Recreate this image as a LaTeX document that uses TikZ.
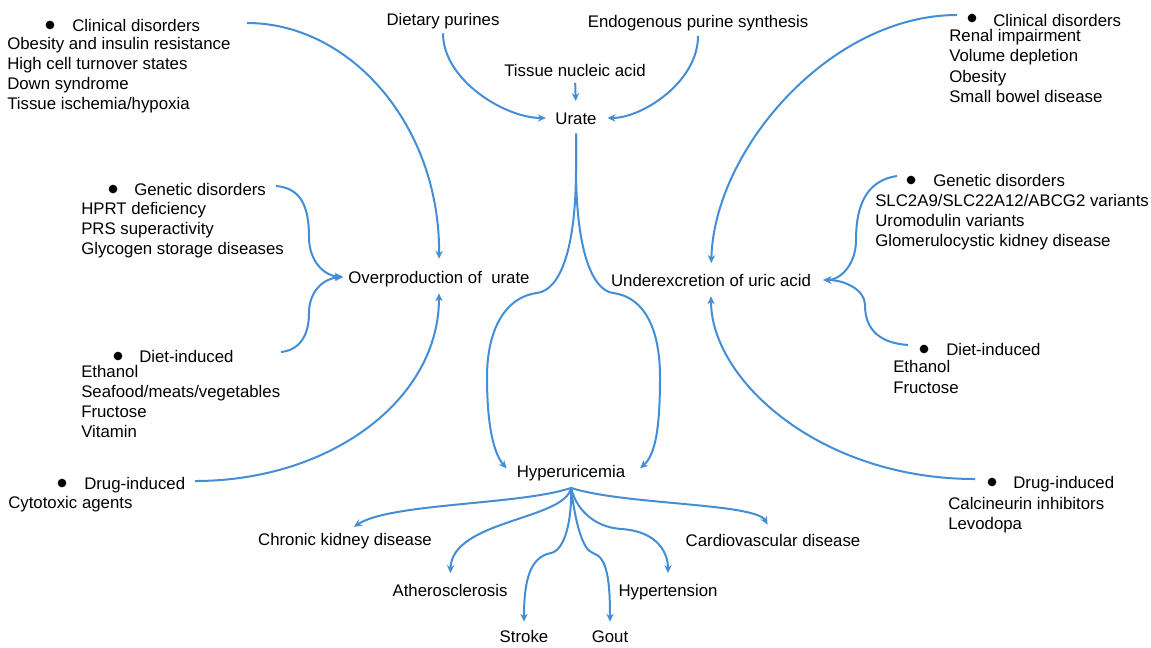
\documentclass[tikz,border=0pt]{standalone}
\usepackage{fontspec}
\setmainfont{Liberation Sans}
\usetikzlibrary{arrows.meta}
\definecolor{lineblue}{RGB}{68,142,214}
\newcommand\lblfont{\fontsize{12.6pt}{15pt}\selectfont}
\begin{document}
\begin{tikzpicture}[x=0.75pt,y=-0.75pt,
  lbl/.style={font=\lblfont, inner sep=0pt, text height=9pt, text depth=0pt},
  dot/.style={circle, fill=black, inner sep=0pt, minimum size=6.5pt},
  arr/.style={draw=lineblue, line width=1.5pt, -{Stealth[length=6pt,width=5.5pt]}}]
\fill[white] (0,0) rectangle (1151,647);
\useasboundingbox (0,0) rectangle (1151,647);

% central nodes
\node[lbl] (dp) at (443,19) {Dietary purines};
\node[lbl] (ep) at (698,21) {Endogenous purine synthesis};
\node[lbl] (tna) at (575,70) {Tissue nucleic acid};
\node[lbl] (urate) at (576,118) {Urate};
\node[lbl] (over) at (439,277) {Overproduction of\ \ urate};
\node[lbl] (under) at (711,280) {Underexcretion of uric acid};
\node[lbl] (hyp) at (571,471) {Hyperuricemia};
\node[lbl] (ckd) at (345,539) {Chronic kidney disease};
\node[lbl] (cvd) at (773,540) {Cardiovascular disease};
\node[lbl] (ath) at (450,590) {Atherosclerosis};
\node[lbl] (hyt) at (668,590) {Hypertension};
\node[lbl] (str) at (524,636) {Stroke};
\node[lbl] (gout) at (610,636) {Gout};

% left clinical
\node[dot] (lcb) at (50,25) {};
\node[lbl,anchor=west] (lch) at (72,25) {Clinical disorders};
\foreach \t [count=\i] in {Obesity and insulin resistance,High cell turnover states,Down syndrome,Tissue ischemia/hypoxia}
  \node[lbl,anchor=west] (lc\i) at (7,{43+20.3*(\i-1)}) {\t};
% left genetic
\node[dot] (lgb) at (113,189) {};
\node[lbl,anchor=west] (lgh) at (134,189) {Genetic disorders};
\foreach \t [count=\i] in {HPRT deficiency,PRS superactivity,Glycogen storage diseases}
  \node[lbl,anchor=west] (lg\i) at (81,{208+20*(\i-1)}) {\t};
% left diet
\node[dot] (ldb) at (118,356) {};
\node[lbl,anchor=west] (ldh) at (139,356) {Diet-induced};
\foreach \t [count=\i] in {Ethanol,Seafood/meats/vegetables,Fructose,Vitamin}
  \node[lbl,anchor=west] (ld\i) at (81,{371+20*(\i-1)}) {\t};
% left drug
\node[dot] (lxb) at (62,483) {};
\node[lbl,anchor=west] (lxh) at (84,483) {Drug-induced};
\node[lbl,anchor=west] (lx1) at (8,502) {Cytotoxic agents};

% right clinical
\node[dot] (rcb) at (972,18) {};
\node[lbl,anchor=west] (rch) at (993,20) {Clinical disorders};
\foreach \t [count=\i] in {Renal impairment,Volume depletion,Obesity,Small bowel disease}
  \node[lbl,anchor=west] (rc\i) at (949,{35+20.6*(\i-1)}) {\t};
% right genetic
\node[dot] (rgb) at (911,180) {};
\node[lbl,anchor=west] (rgh) at (933,180) {Genetic disorders};
\foreach \t [count=\i] in {SLC2A9/SLC22A12/ABCG2 variants,Uromodulin variants,Glomerulocystic kidney disease}
  \node[lbl,anchor=west] (rg\i) at (875,{200+20*(\i-1)}) {\t};
% right diet
\node[dot] (rdb) at (924,349) {};
\node[lbl,anchor=west] (rdh) at (946,349) {Diet-induced};
\foreach \t [count=\i] in {Ethanol,Fructose}
  \node[lbl,anchor=west] (rd\i) at (893,{366+21*(\i-1)}) {\t};
% right drug
\node[dot] (rxb) at (992,482) {};
\node[lbl,anchor=west] (rxh) at (1013,482) {Drug-induced};
\foreach \t [count=\i] in {Calcineurin inhibitors,Levodopa}
  \node[lbl,anchor=west] (rx\i) at (948,{503+20*(\i-1)}) {\t};

% free ends of connectors
\coordinate (lcS) at (247,23);
\coordinate (lgS) at (276,186);
\coordinate (ldS) at (281,352);
\coordinate (lxS) at (195,481);
\coordinate (rcS) at (957,15);
\coordinate (rgS) at (897,176);
\coordinate (rdS) at (908,345);
\coordinate (rxS) at (975,479);
\coordinate (fan) at ([yshift=-8pt]hyp.south);

% top inputs
\draw[arr, shorten <=6pt, shorten >=7pt] (dp.south) .. controls +(0,55) and +(-50,0) .. (urate.west);
\draw[arr, shorten <=6.5pt, shorten >=8pt] (ep.south) .. controls +(0,55) and +(45,0) .. (urate.east);
\draw[arr, shorten <=5pt, shorten >=8pt] (tna.south) -- (urate.north);

% urate to hyperuricemia
\draw[arr, shorten <=7pt] (urate.south) -- (576,168) .. controls (576,250) and (560,290) .. (537,293)
  .. controls (505,297) and (487,330) .. (487,377) .. controls (487,430) and (495,455) .. ([xshift=-7.5pt,yshift=2pt]hyp.west);
\draw[arr, shorten <=7pt] (urate.south) -- (576,168) .. controls (576,250) and (592,290) .. (613,293)
  .. controls (645,297) and (660,330) .. (660,377) .. controls (660,430) and (655,455) .. ([xshift=11pt,yshift=2pt]hyp.east);

% overproduction inputs
\draw[arr, shorten >=9pt] (lcS) .. controls (350,23) and (440,125) .. (over.north);
\draw[arr, shorten >=7.5pt] (lxS) .. controls (330,481) and (439,400) .. (over.south);
\draw[arr, shorten >=4pt] (lgS) .. controls (300,188) and (309,205) .. (309,237) .. controls (309,262) and (325,276) .. (over.west);
\draw[arr, shorten >=4pt] (ldS) .. controls (300,350) and (309,335) .. (309,313) .. controls (309,290) and (325,278) .. (over.west);

% underexcretion inputs
\draw[arr, shorten >=8pt] (rcS) .. controls (830,15) and (714,150) .. (under.north);
\draw[arr, shorten >=7.5pt] (rxS) .. controls (820,479) and (711,380) .. (under.south);
\draw[arr, shorten >=9pt] (rgS) .. controls (870,180) and (856,200) .. (856,240) .. controls (856,265) and (840,280) .. (under.east);
\draw[arr, shorten >=9pt] (rdS) .. controls (880,343) and (865,330) .. (865,305) .. controls (865,290) and (845,280) .. (under.east);

% consequences
\draw[arr, shorten >=8pt] (fan) .. controls (520,505) and (390,503) .. (ckd.north);
\draw[arr, shorten >=8pt] (fan) .. controls (625,505) and (755,503) .. (cvd.north);
\draw[arr, shorten >=8pt] (fan) .. controls (565,520) and (452,520) .. (ath.north);
\draw[arr, shorten >=8pt] (fan) .. controls (578,515) and (600,528) .. (622,529) .. controls (660,532) and (668,555) .. (hyt.north);
\draw[arr, shorten >=6pt] (fan) .. controls (572,520) and (565,550) .. (551,553) .. controls (530,557) and (524,580) .. (str.north);
\draw[arr, shorten >=6pt] (fan) .. controls (575,520) and (582,550) .. (593,553) .. controls (607,557) and (610,580) .. (gout.north);
\end{tikzpicture}
\end{document}
